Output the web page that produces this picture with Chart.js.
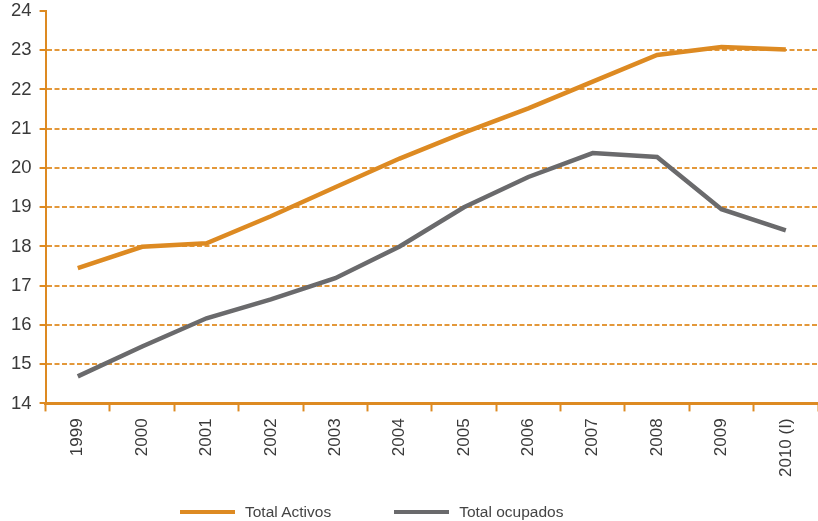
<!DOCTYPE html>
<html>
<head>
<meta charset="utf-8">
<script src="https://cdn.jsdelivr.net/npm/chart.js@4"></script>
<style>
  html, body { margin: 0; padding: 0; background: #fff; }
  #wrap { position: relative; width: 818px; height: 521px; }
  #legend {
    position: absolute; left: 180px; top: 503px;
    display: flex; align-items: center;
    font-family: "Liberation Sans", Arial, sans-serif; font-size: 15.5px; color: #444;
  }
  #legend .item { display: flex; align-items: center; margin-right: 63px; }
  #legend .swatch { width: 55px; height: 4px; margin-right: 10px; }
</style>
</head>
<body>
<div id="wrap">
  <canvas id="chart"></canvas>
  <div id="legend"></div>
</div>
<script>
// años
const years = ['1999', '2000', '2001', '2002', '2003', '2004', '2005', '2006', '2007', '2008', '2009', '2010 (I)'];
// millones de personas
const totalActivos = [17.45, 17.99, 18.08, 18.77, 19.51, 20.24, 20.9, 21.52, 22.2, 22.88, 23.08, 23.02];
const totalOcupados = [14.69, 15.45, 16.17, 16.65, 17.19, 18.0, 19.0, 19.77, 20.38, 20.28, 18.95, 18.41];
const yTicks = [14, 15, 16, 17, 18, 19, 20, 21, 22, 23, 24];

const ORANGE = '#dd8a22';
const GRID = '#e3983a';
const GREY = '#6a6a6c';
const TEXT = '#3a3a3a';

const chart = new Chart(document.getElementById('chart'), {
  type: 'line',
  data: {
    labels: years,
    datasets: [
      {
        label: 'Total Activos',
        data: totalActivos,
        borderColor: ORANGE,
        backgroundColor: ORANGE,
        borderWidth: 4.5,
        pointRadius: 0,
        tension: 0,
      },
      {
        label: 'Total ocupados',
        data: totalOcupados,
        borderColor: GREY,
        backgroundColor: GREY,
        borderWidth: 4.5,
        pointRadius: 0,
        tension: 0,
      },
    ],
  },
  options: {
    responsive: true,
    maintainAspectRatio: false,
    animation: false,
    layout: { padding: { top: 0, bottom: 37, left: 3, right: 0 } },
    plugins: {
      legend: { display: false },
      tooltip: { enabled: false },
    },
    scales: {
      x: {
        offset: true,
        grid: {
          offset: true,
          drawOnChartArea: false,
          drawTicks: true,
          tickLength: 8,
          tickColor: ORANGE,
          tickWidth: 2,
        },
        border: { color: ORANGE, width: 3 },
        ticks: {
          color: TEXT,
          font: { family: 'Liberation Sans', size: 17 },
          minRotation: 90,
          maxRotation: 90,
          padding: 7,
        },
      },
      y: {
        min: yTicks[0],
        max: yTicks[yTicks.length - 1],
        afterBuildTicks: (axis) => {
          axis.ticks = yTicks.map((v) => ({ value: v }));
        },
        afterFit: (axis) => {
          // la etiqueta "24" queda pegada arriba
          axis.paddingTop = 11;
        },
        grid: {
          color: (c) => (c.tick && c.tick.value === 24 ? 'rgba(0,0,0,0)' : GRID),
          lineWidth: 2,
          tickLength: 6,
          tickColor: ORANGE,
          tickWidth: 2,
        },
        border: { color: ORANGE, width: 2, dash: [5, 2.5] },
        ticks: {
          color: TEXT,
          font: { family: 'Liberation Sans', size: 18.5 },
          padding: 8,
        },
      },
    },
  },
});

// leyenda
const legendEl = document.getElementById('legend');
chart.data.datasets.forEach((ds) => {
  const item = document.createElement('div');
  item.className = 'item';
  const sw = document.createElement('span');
  sw.className = 'swatch';
  sw.style.background = ds.borderColor;
  const txt = document.createElement('span');
  txt.textContent = ds.label;
  item.appendChild(sw);
  item.appendChild(txt);
  legendEl.appendChild(item);
});
</script>
</body>
</html>
